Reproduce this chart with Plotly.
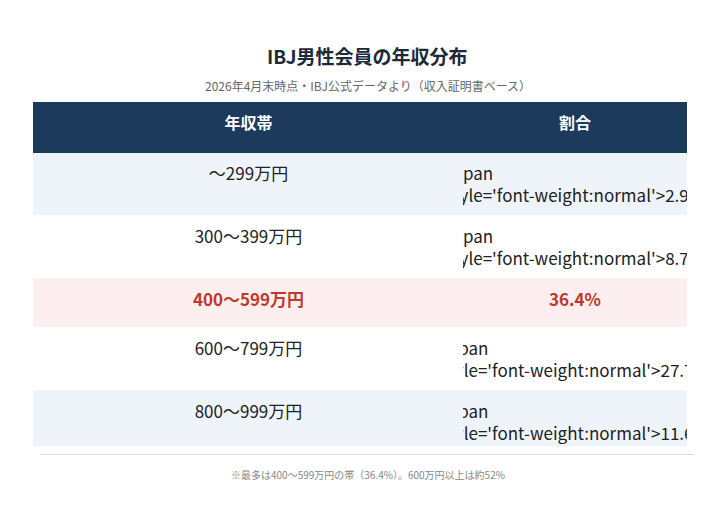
import plotly.graph_objects as go

header = ["年収帯", "割合"]
bands = ["〜299万円", "300〜399万円", "400〜599万円", "600〜799万円", "800〜999万円", "1,000万円以上"]
shares = ["2.9%", "8.7%", "36.4%", "27.7%", "11.6%", "12.7%"]
highlight = 2

W, H = 719, 507
fills = ["#EEF4FA", "#FFFFFF", "#FDEFEF", "#FFFFFF", "#EEF4FA", "#FFFFFF"]
font_colors = ["#C0392B" if i == highlight else "#222222" for i in range(len(bands))]


def fmt(s, i):
    if i == highlight:
        return f"<b>{s}</b>"
    return f"<span style='font-weight:normal'>{s}</span>"


fig = go.Figure(go.Table(
    domain=dict(x=[25 / W, 678 / W], y=[1 - 439 / H, 1 - 94 / H]),
    columnwidth=[0.66, 0.34],
    header=dict(
        values=[f"<b>{h}</b>" for h in header],
        fill_color="#1B3A5C", line_color="#1B3A5C",
        font=dict(color="white", size=16), height=50, align="center",
    ),
    cells=dict(
        values=[[fmt(s, i) for i, s in enumerate(bands)], [fmt(s, i) for i, s in enumerate(shares)]],
        fill_color=[fills, fills], line_color=[fills, fills],
        font=dict(color=[font_colors, font_colors], size=17), height=49, align="center",
    ),
))

fig.add_shape(type="line", xref="paper", yref="paper", x0=33 / W, x1=686 / W,
              y0=1 - 446.5 / H, y1=1 - 446.5 / H, line=dict(color="#DDDDDD", width=1))
fig.add_annotation(text="<b>IBJ男性会員の年収分布</b>", x=0.5, y=1 - 47 / H, xref="paper", yref="paper",
                   yanchor="middle", showarrow=False, font=dict(size=19, color="#1B2A3A"))
fig.add_annotation(text="2026年4月末時点・IBJ公式データより（収入証明書ベース）", x=0.5, y=1 - 77 / H,
                   xref="paper", yref="paper", yanchor="middle", showarrow=False,
                   font=dict(size=12, color="#666666"))
fig.add_annotation(text="※最多は400〜599万円の帯（36.4%）。600万円以上は約52%", x=0.5, y=1 - 466 / H,
                   xref="paper", yref="paper", yanchor="middle", showarrow=False,
                   font=dict(size=10, color="#888888"))

fig.update_layout(
    width=W, height=H, margin=dict(l=0, r=0, t=0, b=0),
    paper_bgcolor="white",
    font=dict(family="Noto Sans CJK JP, Noto Sans, sans-serif"),
)
fig.write_html("out.html")
